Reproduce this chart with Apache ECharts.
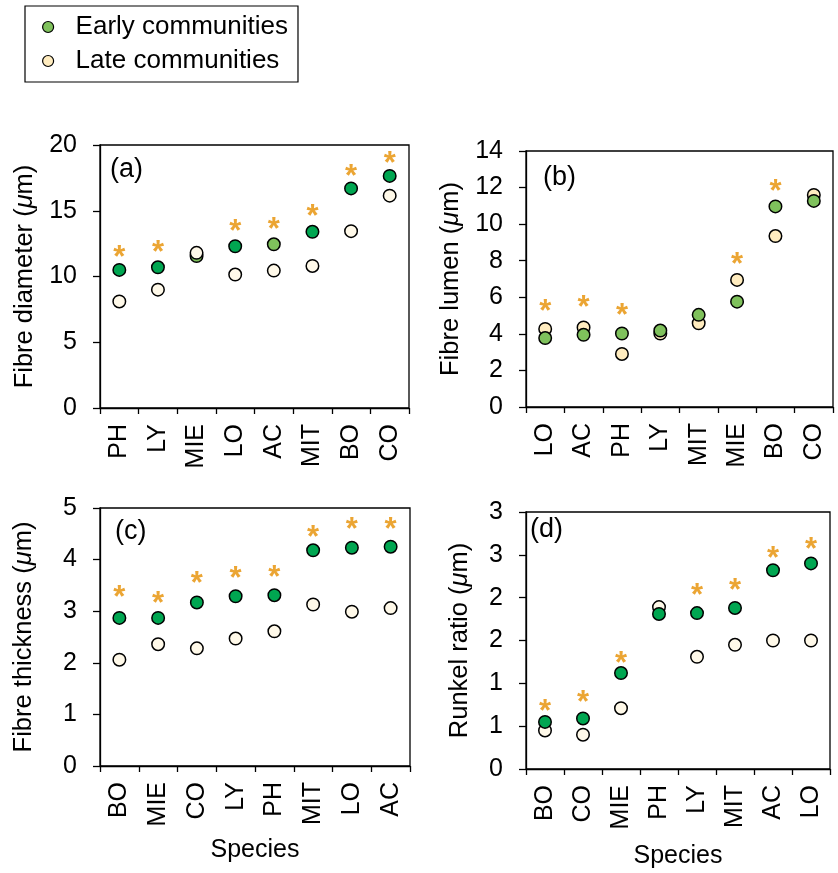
<!DOCTYPE html>
<html>
<head>
<meta charset="utf-8">
<script src="https://cdn.jsdelivr.net/npm/echarts@6/dist/echarts.min.js"></script>
<style>
html,body{margin:0;padding:0;background:#fff;}
#chart{width:838px;height:873px;}
</style>
</head>
<body>
<div id="chart"></div>
<script>
// ---- Data ----
const catsA  = ['PH','LY','MIE','LO','AC','MIT','BO','CO'];
const earlyA = [10.5, 10.7, 11.55, 12.3, 12.45, 13.4, 16.7, 17.65];
const lateA  = [8.1, 9.0, 11.8, 10.15, 10.45, 10.8, 13.45, 16.15];
const sigA   = [11.9, 12.25, '-', 13.85, 14.0, 15.05, 18.1, 19.05];

const catsB  = ['LO','AC','PH','LY','MIT','MIE','BO','CO'];
const earlyB = [3.77, 3.95, 4.02, 4.18, 5.04, 5.76, 10.97, 11.27];
const lateB  = [4.27, 4.35, 2.9, 4.02, 4.58, 6.95, 9.35, 11.6];
const sigB   = [5.55, 5.75, 5.35, '-', '-', 8.1, 12.1, '-'];

const catsC  = ['BO','MIE','CO','LY','PH','MIT','LO','AC'];
const earlyC = [2.87, 2.87, 3.17, 3.29, 3.31, 4.18, 4.23, 4.25];
const lateC  = [2.06, 2.36, 2.28, 2.47, 2.61, 3.13, 2.99, 3.06];
const sigC   = [3.38, 3.27, 3.65, 3.75, 3.77, 4.55, 4.71, 4.71];

const catsD  = ['BO','CO','MIE','PH','LY','MIT','AC','LO'];
const earlyD = [0.55, 0.59, 1.12, 1.81, 1.82, 1.88, 2.32, 2.4];
const lateD  = [0.45, 0.4, 0.71, 1.89, 1.31, 1.45, 1.5, 1.5];
const sigD   = [0.74, 0.85, 1.3, '-', 2.1, 2.15, 2.53, 2.63];

const titles = ['Fibre diameter ({i|\u03bc}m)', 'Fibre lumen ({i|\u03bc}m)', 'Fibre thickness ({i|\u03bc}m)', 'Runkel ratio ({i|\u03bc}m)'];
const panelTags = ['(a)', '(b)', '(c)', '(d)'];
const yMax = [20, 14, 5, 3];
const yStep = [5, 2, 1, 0.5];

// ---- Styles ----
const FONT = "'Liberation Sans', Arial, Helvetica, sans-serif";
const DARK_GREEN = '#00a651';
const LIGHT_GREEN = '#7fc15c';
const PALE = '#fff9e9';
const PALE_YELLOW = '#ffecbf';
const STAR = '#e68f00';

const panels = [
  {cats: catsA, early: earlyA, late: lateA, sig: sigA, grid: {left: 100, top: 145, width: 309, height: 263},
   earlyColor: c => (c === 'MIE' || c === 'AC') ? LIGHT_GREEN : DARK_GREEN, lateColor: PALE, earlyOnTop: false, nameGap: 62, xName: '', xGap: 70},
  {cats: catsB, early: earlyB, late: lateB, sig: sigB, grid: {left: 526, top: 151, width: 307, height: 256},
   earlyColor: c => LIGHT_GREEN, lateColor: PALE_YELLOW, earlyOnTop: true, nameGap: 62, xName: '', xGap: 70},
  {cats: catsC, early: earlyC, late: lateC, sig: sigC, grid: {left: 100, top: 508, width: 310, height: 258},
   earlyColor: c => DARK_GREEN, lateColor: PALE, earlyOnTop: true, nameGap: 63, xName: 'Species', xGap: 72},
  {cats: catsD, early: earlyD, late: lateD, sig: sigD, grid: {left: 526, top: 512, width: 304, height: 257},
   earlyColor: c => DARK_GREEN, lateColor: PALE, earlyOnTop: true, nameGap: 53, xName: 'Species', xGap: 75}
];
const tagPos = [[110, 156], [543, 164], [115, 518], [530, 516]];

const grids = [], xAxes = [], yAxes = [], series = [], graphics = [];
panels.forEach((p, i) => {
  grids.push(Object.assign({show: true, borderColor: '#000', borderWidth: 1.3, backgroundColor: 'transparent'}, p.grid));
  xAxes.push({
    type: 'category', gridIndex: i, data: p.cats, boundaryGap: true,
    axisLine: {lineStyle: {color: '#000', width: 1.3}},
    axisTick: {show: true, inside: false, length: 6, alignWithLabel: false, lineStyle: {color: '#000', width: 1.3}},
    axisLabel: {rotate: 90, color: '#000', fontSize: 25, fontFamily: FONT, margin: 16, interval: 0},
    name: p.xName, nameLocation: 'middle', nameGap: p.xGap,
    nameTextStyle: {color: '#000', fontSize: 25, fontFamily: FONT},
    splitLine: {show: false}
  });
  yAxes.push({
    type: 'value', gridIndex: i, min: 0, max: yMax[i], interval: yStep[i],
    axisLine: {show: true, lineStyle: {color: '#000', width: 1.3}},
    axisTick: {show: true, inside: false, length: 7, lineStyle: {color: '#000', width: 1.3}},
    axisLabel: {color: '#000', fontSize: 25, fontFamily: FONT, margin: 23,
      formatter: i === 3 ? (v => String(Math.round(v))) : (v => String(v))},
    splitLine: {show: false},
    name: titles[i], nameLocation: 'middle', nameGap: p.nameGap,
    nameTextStyle: {color: '#000', fontSize: 25.5, fontFamily: FONT,
      rich: {i: {fontStyle: 'italic', fontSize: 25.5, fontFamily: FONT, color: '#000'}}}
  });
  const earlySeries = {
    name: 'Early communities', type: 'scatter', xAxisIndex: i, yAxisIndex: i,
    symbol: 'circle', symbolSize: 12.5,
    data: p.early.map((v, k) => ({value: v, itemStyle: {color: p.earlyColor(p.cats[k])}})),
    itemStyle: {borderColor: '#000', borderWidth: 1.5, opacity: 1},
    z: p.earlyOnTop ? 4 : 3, emphasis: {disabled: true}
  };
  const lateSeries = {
    name: 'Late communities', type: 'scatter', xAxisIndex: i, yAxisIndex: i,
    symbol: 'circle', symbolSize: 12.5,
    data: p.late,
    itemStyle: {color: p.lateColor, borderColor: '#000', borderWidth: 1.5, opacity: 1},
    z: p.earlyOnTop ? 3 : 4, emphasis: {disabled: true}
  };
  const sigSeries = {
    name: 'sig', type: 'scatter', xAxisIndex: i, yAxisIndex: i,
    symbol: 'circle', symbolSize: 1, silent: true,
    itemStyle: {color: 'rgba(0,0,0,0)'},
    data: p.sig,
    label: {show: true, position: 'inside', formatter: '*', color: STAR, fontSize: 31,
      fontWeight: 'bold', fontFamily: FONT, offset: [0, 7]},
    z: 5
  };
  series.push(earlySeries, lateSeries, sigSeries);
  graphics.push({type: 'text', left: tagPos[i][0], top: tagPos[i][1],
    style: {text: panelTags[i], font: '27px ' + FONT, fill: '#000'}});
});

const chart = echarts.init(document.getElementById('chart'), null, {renderer: 'canvas'});
chart.setOption({
  backgroundColor: '#fff',
  animation: false,
  legend: {
    left: 25, top: 6, orient: 'vertical', selectedMode: false,
    padding: [6, 10, 6, 17], itemGap: 4, itemWidth: 11, itemHeight: 11,
    borderColor: '#000', borderWidth: 1.2,
    icon: 'circle',
    textStyle: {color: '#000', fontSize: 26, fontFamily: FONT, lineHeight: 30, padding: [0, 0, 0, 17]},
    data: [
      {name: 'Early communities', itemStyle: {color: LIGHT_GREEN, borderColor: '#000', borderWidth: 1.2}},
      {name: 'Late communities', itemStyle: {color: PALE_YELLOW, borderColor: '#000', borderWidth: 1.2}}
    ]
  },
  grid: grids,
  xAxis: xAxes,
  yAxis: yAxes,
  series: series,
  graphic: graphics,
  tooltip: {show: false}
});
</script>
</body>
</html>
